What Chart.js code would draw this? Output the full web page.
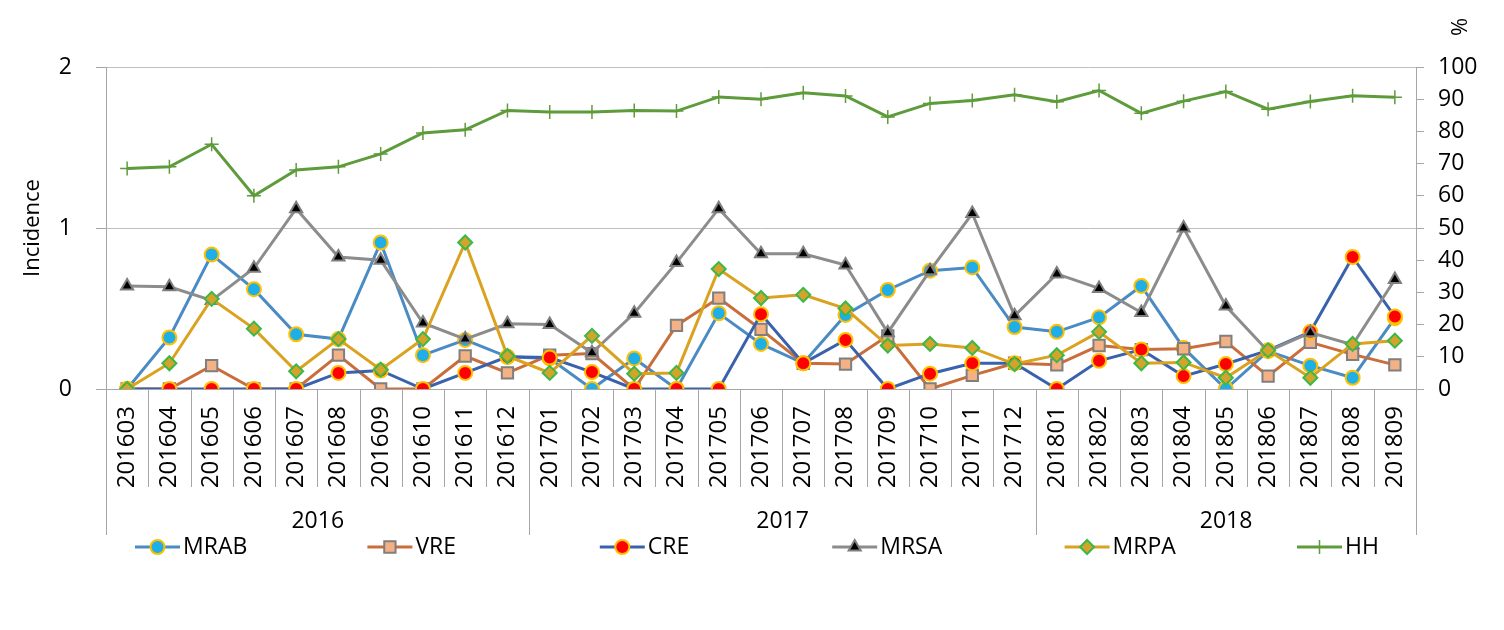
<!DOCTYPE html>
<html>
<head>
<meta charset="utf-8">
<script src="https://cdn.jsdelivr.net/npm/chart.js@4/dist/chart.umd.min.js"></script>
<style>
  html, body { margin: 0; padding: 0; background: #fff; }
  #wrap { width: 1504px; height: 630px; position: relative; }
</style>
</head>
<body>
<div id="wrap"><canvas id="chart"></canvas></div>
<script>
// months (year is taken from the first 4 characters for the group row)
const months = [
  "201603", "201604", "201605", "201606", "201607", "201608", "201609", "201610", "201611", "201612",
  "201701", "201702", "201703", "201704", "201705", "201706", "201707", "201708", "201709", "201710", "201711", "201712",
  "201801", "201802", "201803", "201804", "201805", "201806", "201807", "201808", "201809"
];

// incidence (left axis)
const mrab = [0, 0.32, 0.835, 0.62, 0.34, 0.31, 0.91, 0.21, 0.305, 0.2, 0.19, 0, 0.19, 0, 0.47, 0.28, 0.16, 0.46, 0.615, 0.735, 0.755, 0.385, 0.355, 0.445, 0.64, 0.255, 0, 0.235, 0.145, 0.07, 0.44];
const vre = [0, 0, 0.145, 0, 0, 0.21, 0, 0, 0.205, 0.1, 0.21, 0.22, 0, 0.395, 0.565, 0.37, 0.16, 0.155, 0.33, 0, 0.085, 0.16, 0.15, 0.27, 0.245, 0.25, 0.295, 0.08, 0.29, 0.215, 0.15];
const cre = [0, 0, 0, 0, 0, 0.1, 0.115, 0, 0.1, 0.2, 0.195, 0.105, 0, 0, 0, 0.465, 0.16, 0.305, 0, 0.095, 0.16, 0.16, 0, 0.175, 0.245, 0.08, 0.155, 0.24, 0.355, 0.82, 0.45];
const mrsa = [0.64, 0.635, 0.55, 0.75, 1.12, 0.82, 0.8, 0.41, 0.31, 0.405, 0.4, 0.225, 0.47, 0.785, 1.12, 0.84, 0.84, 0.77, 0.35, 0.735, 1.09, 0.455, 0.715, 0.625, 0.475, 1.0, 0.515, 0.235, 0.35, 0.275, 0.68];
const mrpa = [0, 0.16, 0.56, 0.375, 0.11, 0.31, 0.12, 0.31, 0.91, 0.205, 0.1, 0.33, 0.095, 0.1, 0.745, 0.565, 0.585, 0.5, 0.27, 0.28, 0.255, 0.155, 0.21, 0.355, 0.16, 0.165, 0.07, 0.24, 0.07, 0.28, 0.3];

// hand hygiene % (right axis)
const hh = [68.5, 69, 76, 60, 68, 69, 73, 79.5, 80.5, 86.5, 86, 86, 86.5, 86.3, 90.7, 90, 92, 91, 84.5, 88.7, 89.6, 91.4, 89.2, 92.7, 85.6, 89.4, 92.4, 86.9, 89.3, 91.1, 90.6];

const leftTicks = [0, 1, 2];
const rightTicks = [0, 10, 20, 30, 40, 50, 60, 70, 80, 90, 100];

Chart.defaults.font.family = "'Open Sans', sans-serif";
Chart.defaults.color = "#000";

const AXIS_GRAY = "#a6a6a6";

// helper for one line series
const makeSeries = (label, data, axis, line, style, fill, edge, radius, order) => ({
  label: label,
  data: data,
  yAxisID: axis,
  borderColor: line,
  backgroundColor: fill,
  borderWidth: 3,
  pointStyle: style,
  pointRadius: radius,
  pointHoverRadius: radius,
  pointBackgroundColor: fill,
  pointBorderColor: edge,
  pointBorderWidth: style === "cross" ? 1.5 : 2,
  tension: 0,
  fill: false,
  order: order
});

// month separators, year row, legend and the "%" title
const extras = {
  id: "extras",
  afterDraw(chart) {
    const ctx = chart.ctx;
    const x = chart.scales.x;
    const area = chart.chartArea;
    const step = x.getPixelForValue(1) - x.getPixelForValue(0);
    const base = area.bottom;

    ctx.save();
    ctx.strokeStyle = AXIS_GRAY;
    ctx.lineWidth = 1;
    let groupStart = 0;
    for (let i = 0; i <= months.length; i++) {
      const px = Math.round(x.getPixelForValue(i) - step / 2) + 0.5;
      const yearEdge = i === 0 || i === months.length || months[i].slice(0, 4) !== months[i - 1].slice(0, 4);
      ctx.beginPath();
      ctx.moveTo(px, base);
      ctx.lineTo(px, base + (yearEdge ? 146 : 98));
      ctx.stroke();
      if (yearEdge && i > 0) {
        const left = x.getPixelForValue(groupStart) - step / 2;
        ctx.fillStyle = "#000";
        ctx.font = "23px 'Open Sans', sans-serif";
        ctx.textAlign = "center";
        ctx.textBaseline = "middle";
        ctx.fillText(months[groupStart].slice(0, 4), (left + px) / 2, base + 132);
        groupStart = i;
      }
    }

    // legend, one equal column per series
    const colW = 232.4;
    const ly = 547;
    chart.data.datasets.forEach((ds, k) => {
      const sx = 135 + k * colW;
      ctx.strokeStyle = ds.borderColor;
      ctx.lineWidth = 3;
      ctx.beginPath();
      ctx.moveTo(sx, ly);
      ctx.lineTo(sx + 45, ly);
      ctx.stroke();
      ctx.fillStyle = ds.pointBackgroundColor;
      ctx.strokeStyle = ds.pointBorderColor;
      ctx.lineWidth = ds.pointBorderWidth;
      Chart.helpers.drawPoint(ctx, {
        pointStyle: ds.pointStyle,
        radius: ds.pointRadius,
        borderWidth: ds.pointBorderWidth,
        rotation: 0
      }, sx + 22.5, ly);
      ctx.fillStyle = "#000";
      ctx.font = "23px 'Open Sans', sans-serif";
      ctx.textAlign = "left";
      ctx.textBaseline = "middle";
      ctx.fillText(ds.label, sx + 48, ly);
    });

    // right axis title, at the top
    ctx.translate(1461, 27);
    ctx.rotate(-Math.PI / 2);
    ctx.font = "22px 'Open Sans', sans-serif";
    ctx.textAlign = "center";
    ctx.textBaseline = "middle";
    ctx.fillStyle = "#000";
    ctx.fillText("%", 0, 0);
    ctx.restore();
  }
};

const ctx = document.getElementById("chart").getContext("2d");

const chart = new Chart(ctx, {
  type: "line",
  data: {
    labels: months,
    datasets: [
      makeSeries("MRAB", mrab, "y", "#4a8bc4", "circle", "#1eaee8", "#ffc000", 7, 6),
      makeSeries("VRE", vre, "y", "#c96e3a", "rect", "#f4b183", "#7f7f7f", 8, 5),
      makeSeries("CRE", cre, "y", "#3a62ac", "circle", "#ff0000", "#ffc000", 7, 4),
      makeSeries("MRSA", mrsa, "y", "#8c8c8c", "triangle", "#000000", "#7f7f7f", 7, 3),
      makeSeries("MRPA", mrpa, "y", "#dba21f", "rectRot", "#d4a32a", "#3cb84a", 7, 2),
      makeSeries("HH", hh, "y1", "#5e9b3b", "cross", "#5e9b3b", "#5e9b3b", 7, 1)
    ]
  },
  options: {
    responsive: true,
    maintainAspectRatio: false,
    animation: false,
    layout: { padding: { top: 67, left: 0, right: 0, bottom: 0 } },
    plugins: {
      legend: { display: false },
      tooltip: { enabled: false }
    },
    scales: {
      x: {
        offset: true,
        grid: { display: false },
        border: { color: AXIS_GRAY },
        ticks: {
          autoSkip: false,
          minRotation: 90,
          maxRotation: 90,
          padding: 9,
          font: { size: 24 }
        },
        afterFit(s) { s.height = 241; }
      },
      y: {
        position: "left",
        min: leftTicks[0],
        max: leftTicks[leftTicks.length - 1],
        afterBuildTicks(s) { s.ticks = leftTicks.map(v => ({ value: v })); },
        ticks: { padding: 24, font: { size: 23 } },
        grid: { color: "#bfbfbf", tickColor: AXIS_GRAY, tickLength: 10 },
        border: { color: AXIS_GRAY },
        title: { display: true, text: "Incidence", font: { size: 22 }, padding: { top: 20 } },
        afterFit(s) { s.width = 106; }
      },
      y1: {
        position: "right",
        min: rightTicks[0],
        max: rightTicks[rightTicks.length - 1],
        afterBuildTicks(s) { s.ticks = rightTicks.map(v => ({ value: v })); },
        ticks: { padding: 14, font: { size: 23 } },
        grid: { drawOnChartArea: false, color: AXIS_GRAY, tickLength: 8 },
        border: { color: AXIS_GRAY },
        afterFit(s) { s.width = 88; }
      }
    }
  },
  plugins: [extras]
});
</script>
</body>
</html>
